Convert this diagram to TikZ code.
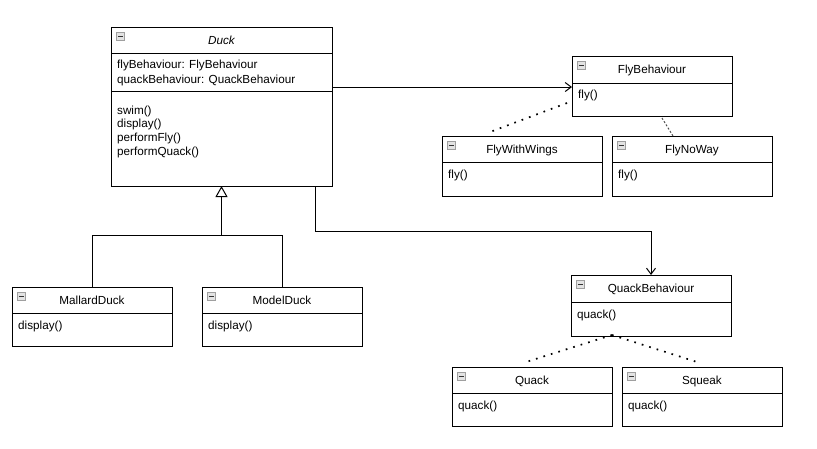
\documentclass[tikz,border=0pt]{standalone}
\usepackage{fontspec}
\setmainfont{Liberation Sans}
\usetikzlibrary{arrows.meta}
\newcommand\umlcls[7]{% name, x1, y1, x2, y2, sep, title
  \node[clsbox, minimum width={(#4)-(#2)}, minimum height={(#5)-(#3)}] (#1) at (#2,#3) {};
  \draw[clsline] (#2,#6) -- (#4,#6);
  \node[iconbox] (#1-ic) at ({#2+5},{#3+5}) {};
  \draw[icondash] ([xshift=1.8pt]#1-ic.west) -- ([xshift=-1.8pt]#1-ic.east);
  \node[ttl] (#1-t) at ({(#2+#4)/2},{#3+17.5}) {#7};
}
\begin{document}
\begin{tikzpicture}[x=1pt,y=-1pt,
  clsbox/.style={draw=black, line width=1pt, fill=white, anchor=north west, inner sep=0pt, outer sep=0pt},
  clsline/.style={line width=1pt, black},
  iconbox/.style={draw=gray!75, fill=gray!22, minimum size=8.5pt, inner sep=0pt, outer sep=0pt, anchor=north west, line width=0.7pt},
  icondash/.style={line width=1.2pt, black!80},
  ttl/.style={font=\fontsize{11.7}{14}\selectfont, inner sep=0pt, anchor=base},
  txt/.style={font=\fontsize{11.7}{14}\selectfont, inner sep=0pt, anchor=base west},
  assoc/.style={line width=1pt, -{Straight Barb[length=6pt,width=9pt]}},
  inh/.style={line width=1pt, -{Triangle[open,length=11pt,width=12pt]}},
  real/.style={line width=1.7pt, dash pattern=on 1.7pt off 6.1pt},
  realthin/.style={line width=1pt, black!70, dash pattern=on 2pt off 1.8pt}
]
\useasboundingbox (0,0) rectangle (817,448);
\fill[white] (0,0) rectangle (817,448);

% classes
\umlcls{duck}{111}{27}{332}{186}{53}{\itshape Duck}
\draw[clsline] (111,91) -- (332,91);
\node[txt] (duck-a1) at (117,68.5) {flyBehaviour: FlyBehaviour};
\node[txt] (duck-a2) at (117,83) {quackBehaviour: QuackBehaviour};
\node[txt] (duck-m1) at (117,114) {swim()};
\node[txt] (duck-m2) at (117,127.7) {display()};
\node[txt] (duck-m3) at (117,141.4) {performFly()};
\node[txt] (duck-m4) at (117,155.1) {performQuack()};

\umlcls{fb}{572}{56}{732}{116}{83}{FlyBehaviour}
\node[txt] (fb-m1) at (578,98.5) {fly()};

\umlcls{fww}{442}{136}{602}{196}{162}{FlyWithWings}
\node[txt] (fww-m1) at (448,178) {fly()};

\umlcls{fnw}{612}{136}{772}{196}{162}{FlyNoWay}
\node[txt] (fnw-m1) at (618,178) {fly()};

\umlcls{mallard}{12}{287}{172}{346}{313}{MallardDuck}
\node[txt] (mallard-m1) at (18,329.5) {display()};

\umlcls{model}{202}{287}{362}{346}{313}{ModelDuck}
\node[txt] (model-m1) at (208,329.5) {display()};

\umlcls{qb}{571}{275}{731}{336}{302.5}{QuackBehaviour}
\node[txt] (qb-m1) at (577,318.3) {quack()};

\umlcls{qk}{452}{367}{612}{426}{393}{Quack}
\node[txt] (qk-m1) at (458,409.5) {quack()};

\umlcls{sq}{622}{367}{782}{426}{393}{Squeak}
\node[txt] (sq-m1) at (628,409.5) {quack()};

% association Duck -> FlyBehaviour
\coordinate (yfly) at (0,87);
\draw[assoc] (duck.east |- yfly) -- (fb.west |- yfly);

% association Duck -> QuackBehaviour
\coordinate (qbend) at (651,231);
\draw[assoc] ([xshift=93.5pt]duck.south) |- (qbend) -- (qb.north);

% inheritance
\coordinate (ibus) at (221.5,235);
\draw[line width=1pt] (mallard.north) |- (ibus);
\draw[line width=1pt] (model.north) |- (ibus);
\draw[inh] (ibus) -- (duck.south);

% realizations
\draw[real] ([shift={(-5,-13)}]fb.south west) -- ([shift={(-32,-4)}]fww.north);
\draw[realthin] ([shift={(10,2)}]fb.south) -- ([shift={(-19,0)}]fnw.north);
\draw[real] ([shift={(-39,-1)}]qb.south) -- ([shift={(-6,-5)}]qk.north);
\draw[real] ([shift={(-39,-1)}]qb.south) -- ([shift={(-5,-5)}]sq.north);
\end{tikzpicture}
\end{document}
